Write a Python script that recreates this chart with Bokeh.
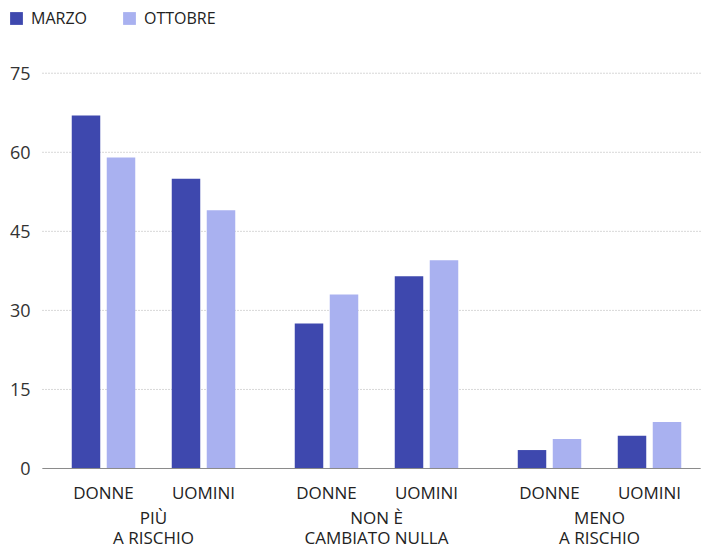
from bokeh.plotting import figure
from bokeh.models import ColumnDataSource, Range1d, Legend, LegendItem
from bokeh.core.properties import value
from bokeh.embed import file_html
from bokeh.resources import INLINE

# ---- data ----
groups = ["PIÙ\nA RISCHIO", "NON È\nCAMBIATO NULLA", "MENO\nA RISCHIO"]
subgroups = ["DONNE", "UOMINI"]
series = ["MARZO", "OTTOBRE"]
marzo = [67, 55, 27.5, 36.5, 3.5, 6.2]
ottobre = [59, 49, 33, 39.5, 5.6, 8.8]
y_ticks = [0, 15, 30, 45, 60, 75]

# ---- style ----
COL_MARZO = "#3e48ae"
COL_OTT = "#a9b1f0"
FONT = "Open Sans"
GROUP_STEP = 223
GROUP_OFF = 111
SUB_STEP = 100
BAR_OFF = 17.5
BAR_W = 28.5
X_END = 658

# positions derived from indices
sub_x, sub_lab, bar_x_m, bar_x_o = [], [], [], []
for gi in range(len(groups)):
    gc = GROUP_OFF + gi * GROUP_STEP
    for si in range(len(subgroups)):
        sc = gc + (si - 0.5) * SUB_STEP
        sub_x.append(sc)
        sub_lab.append(subgroups[si])
        bar_x_m.append(sc - BAR_OFF)
        bar_x_o.append(sc + BAR_OFF)
grp_x, grp_lab, grp_off = [], [], []
for gi, name in enumerate(groups):
    for li, line in enumerate(name.split("\n")):
        grp_x.append(GROUP_OFF + gi * GROUP_STEP)
        grp_lab.append(line)
        grp_off.append(49 + 20 * li)

p = figure(width=702, height=548, output_backend="svg", toolbar_location=None,
           x_range=Range1d(-42, 660), y_range=Range1d(-15.18, 88.8),
           min_border=0, x_axis_location=None, y_axis_location=None)
p.outline_line_color = None
p.background_fill_color = "white"
p.border_fill_color = "white"
p.xgrid.grid_line_color = None
p.ygrid.grid_line_color = None

# dotted grid lines at the y ticks (not under the tick labels)
grid_src = ColumnDataSource(dict(x0=[0] * len(y_ticks), x1=[X_END] * len(y_ticks),
                                 y=y_ticks))
p.segment(x0="x0", x1="x1", y0="y", y1="y", source=grid_src,
          line_color="#b0b0b0", line_width=1, line_dash="1 2")

# bars
src_m = ColumnDataSource(dict(x=bar_x_m, top=marzo))
src_o = ColumnDataSource(dict(x=bar_x_o, top=ottobre))
rm = p.vbar(x="x", top="top", bottom=0, width=BAR_W, source=src_m,
            fill_color=COL_MARZO, line_color=None)
ro = p.vbar(x="x", top="top", bottom=0, width=BAR_W, source=src_o,
            fill_color=COL_OTT, line_color=None)

# baseline
p.segment(x0=[0], x1=[X_END], y0=[0], y1=[0], line_color="#8a8a8a",
          line_width=1)

# y tick labels
ytl = ColumnDataSource(dict(x=[0] * len(y_ticks), y=y_ticks,
                            t=[str(v) for v in y_ticks]))
p.text(x="x", y="y", text="t", source=ytl, x_offset=-12,
       text_align="right", text_baseline="middle",
       text_font=value(FONT), text_font_size="18px", text_color="#333333")

# category labels under the baseline
sub_src = ColumnDataSource(dict(x=sub_x, y=[0] * len(sub_x), t=sub_lab))
p.text(x="x", y="y", text="t", source=sub_src, y_offset=24,
       text_align="center", text_baseline="middle",
       text_font=value(FONT), text_font_size="17px", text_color="#222222")
grp_src = ColumnDataSource(dict(x=grp_x, y=[0] * len(grp_x), t=grp_lab,
                                off=grp_off))
p.text(x="x", y="y", text="t", source=grp_src, y_offset="off",
       text_align="center", text_baseline="middle",
       text_font=value(FONT), text_font_size="17px", text_color="#222222")

# legend (top left)
legend = Legend(items=[LegendItem(label=series[0], renderers=[rm]),
                       LegendItem(label=series[1], renderers=[ro])],
                orientation="horizontal", location=(8, 519))
legend.border_line_color = None
legend.background_fill_alpha = 0
legend.glyph_width = 16
legend.glyph_height = 16
legend.label_text_font = FONT
legend.label_text_font_size = "16px"
legend.label_text_color = "#222222"
legend.label_standoff = 7
legend.spacing = 34
legend.padding = 0
legend.margin = 0
p.add_layout(legend, "center")

open("out.html", "w").write(file_html(p, INLINE))
